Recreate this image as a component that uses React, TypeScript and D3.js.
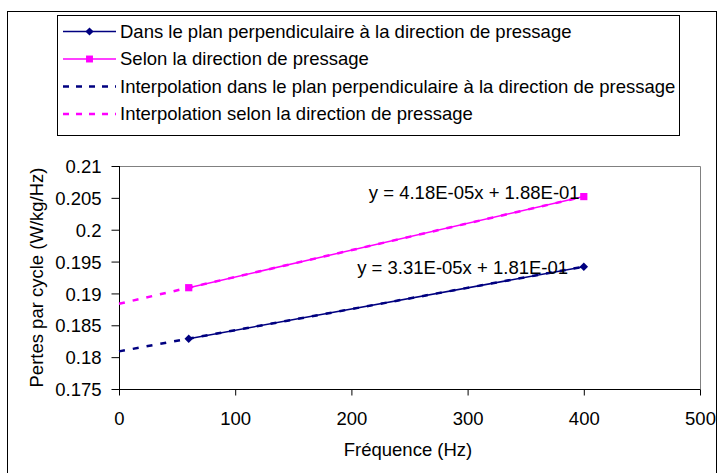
import { useEffect, useRef } from 'react';
import * as d3 from 'd3';

// measured frequencies (Hz)
const frequencies = [60, 400];
// losses per cycle (W/kg/Hz)
const perpValues = [0.1829, 0.1942];
const pressValues = [0.1909, 0.2052];

const xTicks = [0, 100, 200, 300, 400, 500];
const yTicks = [0.175, 0.18, 0.185, 0.19, 0.195, 0.2, 0.205, 0.21];

const legendLabels = [
  'Dans le plan perpendiculaire à la direction de pressage',
  'Selon la direction de pressage',
  'Interpolation dans le plan perpendiculaire à la direction de pressage',
  'Interpolation selon la direction de pressage',
];

const equationLabels = ['y = 3.31E-05x + 1.81E-01', 'y = 4.18E-05x + 1.88E-01'];

const NAVY = '#000080';
const MAGENTA = '#ff00ff';
const FONT = '"Liberation Sans", Arial, sans-serif';
const FS = 18.5;

// least squares fit, as Excel's linear trendline does
function linearFit(xs: number[], ys: number[]) {
  const n = xs.length;
  const mx = d3.mean(xs) as number;
  const my = d3.mean(ys) as number;
  let num = 0;
  let den = 0;
  for (let i = 0; i < n; i++) {
    num += (xs[i] - mx) * (ys[i] - my);
    den += (xs[i] - mx) ** 2;
  }
  const slope = num / den;
  return { slope, intercept: my - slope * mx };
}

export default function App() {
  const svgRef = useRef<SVGSVGElement>(null);

  useEffect(() => {
    if (!svgRef.current) return;
    const svg = d3.select(svgRef.current);
    svg.selectAll('*').remove();

    // outer chart frame
    svg.append('rect')
      .attr('x', 7.5).attr('y', 11.5)
      .attr('width', 709).attr('height', 470)
      .attr('fill', 'white').attr('stroke', 'black').attr('stroke-width', 1);

    const plot = { left: 119, right: 700, top: 166, bottom: 389 };
    const x = d3.scaleLinear().domain([0, 500]).range([plot.left, plot.right]);
    const y = d3.scaleLinear().domain([0.175, 0.21]).range([plot.bottom, plot.top]);

    // plot area border (grey top/right)
    svg.append('path')
      .attr('d', `M${plot.left},${plot.top + 0.5}H${plot.right + 0.5}V${plot.bottom}`)
      .attr('fill', 'none').attr('stroke', '#808080').attr('stroke-width', 1);

    // y axis
    const yAxis = d3.axisLeft(y).tickValues(yTicks).tickSize(8).tickPadding(10)
      .tickFormat((d) => String(+(+d).toFixed(3)));
    const gy = svg.append('g').attr('transform', `translate(${plot.left + 0.5},0)`).call(yAxis);
    gy.selectAll('text').attr('font-family', FONT).attr('font-size', FS).attr('fill', 'black').attr('dy', '0.36em');
    gy.selectAll('.domain, .tick line').attr('stroke', 'black');
    gy.select('.domain').attr('d', `M0,${plot.top}V${plot.bottom + 0.5}`);

    // x axis
    const xAxis = d3.axisBottom(x).tickValues(xTicks).tickSize(6).tickPadding(16)
      .tickFormat((d) => String(d));
    const gx = svg.append('g').attr('transform', `translate(0,${plot.bottom + 0.5})`).call(xAxis);
    gx.selectAll('text').attr('font-family', FONT).attr('font-size', FS).attr('fill', 'black');
    gx.selectAll('.domain, .tick line').attr('stroke', 'black');
    gx.select('.domain').attr('d', `M${plot.left},0H${plot.right + 0.5}`);

    // axis titles
    svg.append('text')
      .attr('x', 408).attr('y', 456)
      .attr('text-anchor', 'middle').attr('font-family', FONT).attr('font-size', FS)
      .text('Fréquence (Hz)');
    svg.append('text')
      .attr('transform', `translate(43,${(plot.top + plot.bottom) / 2}) rotate(-90)`)
      .attr('text-anchor', 'middle').attr('font-family', FONT).attr('font-size', FS)
      .text('Pertes par cycle (W/kg/Hz)');

    const series = [
      { values: perpValues, color: NAVY, marker: 'diamond' },
      { values: pressValues, color: MAGENTA, marker: 'square' },
    ];

    const line = d3.line<[number, number]>().x((d) => x(d[0])).y((d) => y(d[1]));

    series.forEach((s) => {
      const fit = linearFit(frequencies, s.values);
      const x0 = 0;
      const x1 = frequencies[frequencies.length - 1];
      // trendline, backward forecast to 0
      svg.append('path')
        .attr('d', line([[x0, fit.intercept + fit.slope * x0], [x1, fit.intercept + fit.slope * x1]]))
        .attr('fill', 'none').attr('stroke', s.color).attr('stroke-width', 2.5)
        .attr('stroke-dasharray', '6,8');
      // data line
      svg.append('path')
        .attr('d', line(frequencies.map((f, i) => [f, s.values[i]] as [number, number])))
        .attr('fill', 'none').attr('stroke', s.color).attr('stroke-width', 1.5);
      frequencies.forEach((f, i) => {
        svg.append('path')
          .attr('d', s.marker === 'diamond' ? d3.symbol(d3.symbolSquare, 36)() : d3.symbol(d3.symbolSquare, 52)())
          .attr('transform', `translate(${x(f)},${y(s.values[i])})${s.marker === 'diamond' ? ' rotate(45)' : ''}`)
          .attr('fill', s.color);
      });
    });

    // trendline equations
    svg.append('text')
      .attr('x', x(205)).attr('y', y(0.19405) + 6)
      .attr('font-family', FONT).attr('font-size', FS).text(equationLabels[0]);
    svg.append('text')
      .attr('x', x(215)).attr('y', y(0.2053) + 3)
      .attr('font-family', FONT).attr('font-size', FS).text(equationLabels[1]);

    // legend
    const legend = svg.append('g');
    legend.append('rect')
      .attr('x', 57.5).attr('y', 15.5).attr('width', 622).attr('height', 120)
      .attr('fill', 'white').attr('stroke', 'black').attr('stroke-width', 1);
    const legendItems = [
      { color: NAVY, dashed: false, marker: 'diamond' },
      { color: MAGENTA, dashed: false, marker: 'square' },
      { color: NAVY, dashed: true, marker: '' },
      { color: MAGENTA, dashed: true, marker: '' },
    ];
    legendItems.forEach((item, i) => {
      const ly = 31.5 + i * 27.5;
      legend.append('line')
        .attr('x1', 63).attr('x2', 116).attr('y1', ly).attr('y2', ly)
        .attr('stroke', item.color)
        .attr('stroke-width', item.dashed ? 2.5 : 1.5)
        .attr('stroke-dasharray', item.dashed ? '6,7' : null);
      if (item.marker === 'diamond') {
        legend.append('path')
          .attr('d', d3.symbol(d3.symbolSquare, 34)())
          .attr('transform', `translate(89.5,${ly}) rotate(45)`)
          .attr('fill', item.color);
      } else if (item.marker === 'square') {
        legend.append('path')
          .attr('d', d3.symbol(d3.symbolSquare, 48)())
          .attr('transform', `translate(89.5,${ly})`)
          .attr('fill', item.color);
      }
      legend.append('text')
        .attr('x', 120).attr('y', ly + 6)
        .attr('font-family', FONT).attr('font-size', FS)
        .text(legendLabels[i]);
    });
  }, []);

  return (
    <svg ref={svgRef} width={719} height={473}
      style={{ position: 'absolute', left: 0, top: 0, display: 'block', background: 'white' }} />
  );
}
